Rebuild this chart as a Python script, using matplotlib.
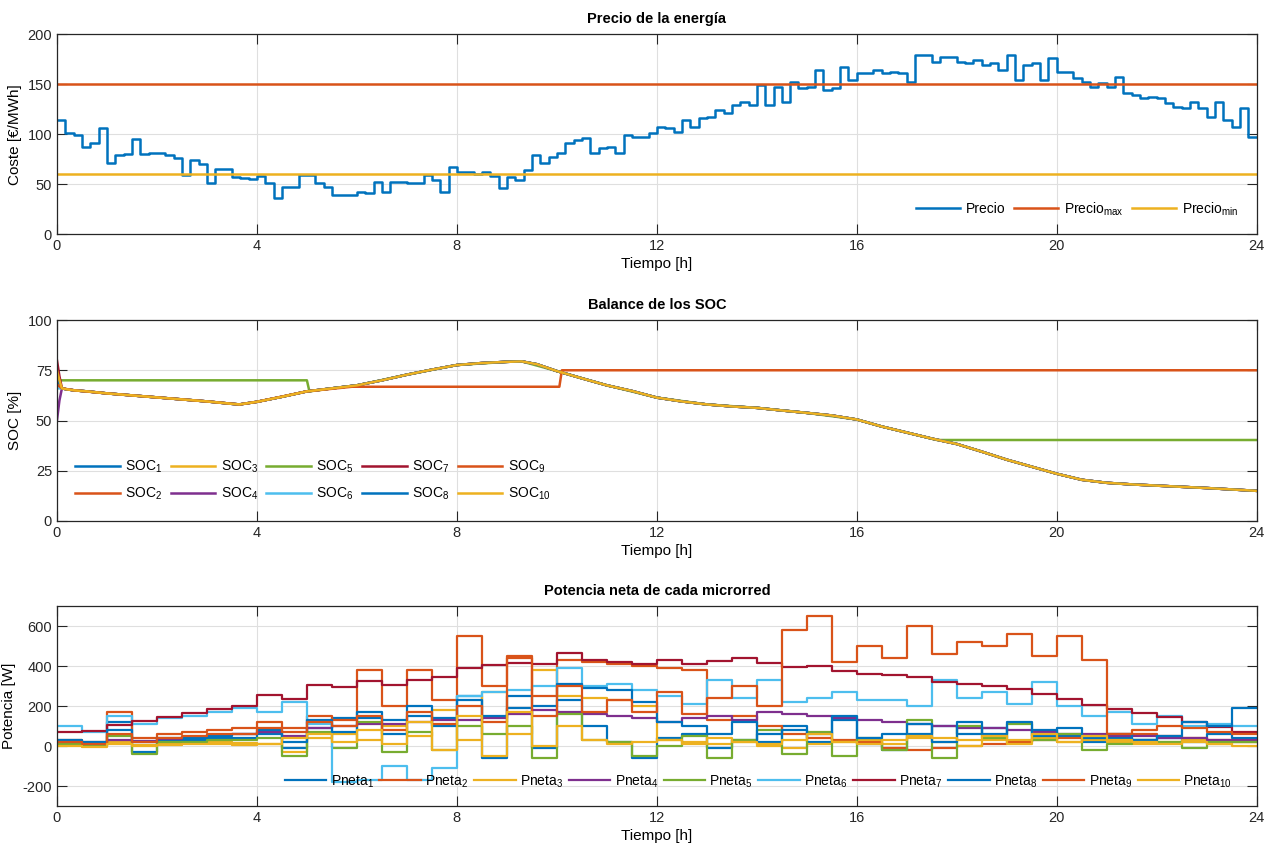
import numpy as np
import matplotlib
matplotlib.use("Agg")
import matplotlib.pyplot as plt

plt.rcParams['font.family'] = ['Liberation Sans Narrow', 'Liberation Sans', 'DejaVu Sans']
plt.rcParams['mathtext.default'] = 'regular'
plt.rcParams['axes.unicode_minus'] = False
plt.rcParams['font.size'] = 10

# MATLAB default colour order
mcol = ['#0072BD', '#D95319', '#EDB120', '#7E2F8E', '#77AC30', '#4DBEEE', '#A2142F']

# ---------------- price (10 min steps) ----------------
precio = [114, 101, 99, 87, 91, 106, 71, 79, 80, 95, 80, 81,
          81, 79, 76, 59, 74, 70, 51, 65, 65, 57, 56, 55,
          58, 51, 36, 47, 47, 59, 59, 51, 47, 39, 39, 39,
          42, 41, 52, 42, 52, 52, 51, 51, 59, 54, 42, 67,
          62, 62, 60, 62, 58, 46, 57, 54, 64, 79, 71, 77,
          81, 91, 94, 96, 81, 86, 87, 81, 99, 97, 97, 101,
          107, 106, 102, 114, 107, 116, 117, 124, 121, 129, 132, 129,
          149, 129, 147, 132, 152, 146, 147, 164, 144, 146, 167, 154,
          161, 161, 164, 161, 162, 161, 152, 179, 179, 172, 177, 177,
          172, 171, 174, 169, 171, 164, 179, 154, 169, 171, 154, 176,
          162, 162, 156, 152, 147, 151, 147, 157, 141, 139, 136, 137,
          136, 131, 127, 126, 132, 126, 117, 132, 114, 107, 126, 97]
precio_max = 150
precio_min = 60

# ---------------- SOC ----------------
soc_t = [0, 0.05, 0.1, 0.2, 0.35, 0.6, 1.0, 1.5, 2.0, 2.5, 3.0, 3.5, 3.65, 4.0,
         4.5, 5.0, 5.5, 6.0, 6.5, 7.0, 7.5, 8.0, 8.5, 9.0, 9.3, 9.6, 10.0,
         10.5, 11.0, 11.5, 12.0, 12.5, 13.0, 13.5, 14.0, 14.5, 15.0, 15.5,
         16.0, 16.5, 17.0, 17.5, 18.0, 18.5, 19.0, 19.5, 20.0, 20.5, 21.0,
         21.5, 22.0, 22.5, 23.0, 23.5, 24.0]
soc_comun = [68, 67, 66, 65.5, 65, 64.5, 63.5, 62.5, 61.5, 60.5, 59.5, 58.3, 58, 59.3,
             61.8, 64.5, 66, 67.5, 70, 72.8, 75.3, 77.6, 78.6, 79.2, 79.4, 78, 74.6,
             71, 67.5, 64.7, 61.4, 59.5, 58, 57, 56.3, 55, 53.8, 52.5,
             50.5, 47, 44, 41, 38.3, 34.5, 30.5, 27, 23.5, 20.5, 19,
             18.2, 17.6, 17, 16.4, 15.7, 15]
soc_ini = [72, 68, 74, 50, 70, 66, 80, 71, 68, 75]   # value at t = 0
soc_ini2 = [69, 67, 70, 60, 70, 66, 72, 68, 67, 70]  # value at t = 0.05

soc5_t = [0, 5.0, 5.05, 5.5, 6.0, 7.0, 8.0, 9.0, 9.3, 10.0, 11.0, 12.0, 13.0, 14.0,
          15.0, 16.0, 16.5, 17.0, 17.6, 24.0]
soc5 = [70, 70, 64.5, 66, 67.5, 72.8, 77.6, 79.2, 79.4, 74.6, 67.5, 61.4, 58, 56.3,
        53.8, 50.5, 47, 44, 40.3, 40.3]
soc9_t = [0, 0.1, 0.35, 1.0, 2.0, 3.0, 3.65, 4.0, 5.0, 5.9, 10.05, 10.1, 24.0]
soc9 = [68, 66, 65, 63.5, 61.5, 59.5, 58, 59.3, 64.5, 66.8, 66.8, 75, 75]

# ---------------- net power (30 min steps) ----------------
pneta1 = [20, 10, 120, -30, 30, 30, 40, 40, 60, -10, 90, 140, 140, 130, 150, 140,
          250, -60, 190, -10, 230, 100, 20, -60, 40, 60, -10, 30, 60, 100, 20, 130,
          10, -20, 60, 100, 60, 90, 20, 80, 50, 20, 40, 30, 40, 20, 60, 40]
pneta2 = [30, 20, 170, 40, 60, 70, 80, 90, 120, 90, 150, 130, 380, 200, 380, 230,
          550, 300, 450, 250, 430, 420, 410, 400, 390, 380, 130, 150, 100, 60, 40, 30,
          20, -10, -20, -10, 0, 10, 20, 30, 40, 50, 60, 60, 50, 40, 30, 20]
pneta3 = [10, 0, 20, 5, 10, 15, 20, 15, 10, -30, 40, 60, 30, 100, 50, 180,
          30, 270, 60, 380, 250, 240, 230, 200, 30, 20, 10, 20, 0, -10, 10, 20,
          30, 10, 40, 20, 0, 30, 10, 40, 20, 30, 20, 10, 20, 30, 10, 20]
pneta4 = [15, 10, 30, 25, 35, 45, 55, 60, 70, 50, 90, 100, 110, 110, 120, 130,
          130, 140, 160, 180, 170, 160, 150, 140, 120, 140, 150, 130, 170, 160, 150, 140,
          130, 120, 110, 100, 90, 90, 80, 70, 60, 60, 50, 50, 40, 40, 30, 30]
pneta5 = [10, 0, 50, -40, 20, 20, 30, 30, 40, -50, 70, -10, 120, -30, 70, -20,
          100, 60, 100, -60, 160, 30, 20, -50, 0, 50, -60, 30, 80, -40, 70, -50,
          40, -20, 130, -60, 100, 40, 110, 30, 60, -20, 10, 30, 20, -10, 20, 20]
pneta6 = [100, 70, 150, 110, 140, 150, 170, 190, 170, 220, 110, -180, -170, -100, -170, -110,
          250, 270, 280, 300, 390, 300, 310, 280, 250, 210, 330, 240, 330, 220, 240, 270,
          230, 230, 200, 330, 240, 270, 210, 320, 200, 150, 170, 110, 150, 100, 110, 100]
pneta7 = [68, 75, 105, 125, 145, 165, 185, 200, 255, 235, 305, 295, 325, 305, 330, 345,
          390, 405, 415, 410, 465, 430, 420, 410, 430, 410, 425, 440, 415, 395, 400, 375,
          360, 355, 345, 320, 310, 300, 285, 260, 235, 205, 185, 165, 145, 120, 95, 70]
pneta8 = [30, 20, 80, 20, 40, 40, 50, 60, 80, 20, 130, 70, 170, 60, 200, 100,
          230, 150, 250, 200, 310, 290, 280, 220, 120, 100, 60, 120, 20, 80, 60, 150,
          40, 60, 110, 20, 120, 60, 120, 50, 90, 40, 60, 30, 50, 120, 100, 190]
pneta9 = [20, 10, 60, 20, 40, 50, 60, 60, 90, 70, 120, 100, 150, 80, 170, 110,
          200, 120, 440, 150, 300, 170, 230, 170, 270, 160, 240, 300, 200, 580, 650, 420,
          500, 440, 600, 460, 520, 500, 560, 450, 550, 430, 60, 80, 100, 90, 70, 60]
pneta10 = [0, -5, 10, 0, 5, 10, 10, 5, 10, 40, 60, 20, 80, 10, 120, -20,
           150, -50, 170, 0, 100, 30, 10, 20, 30, 10, 40, 20, 10, 30, 60, 20,
           10, 30, 50, 40, 30, 50, 30, 60, 20, 50, 30, 20, 10, 20, 10, 0]

ticks_h = [0, 4, 8, 12, 16, 20, 24]


def estilo(ax, ylim, yticks, ylabel, xlab):
    ax.set_xlim(0, 24)
    ax.set_ylim(*ylim)
    ax.set_xticks(ticks_h)
    ax.set_yticks(yticks)
    ax.grid(True, color='#dfdfdf', linewidth=0.8)
    ax.set_axisbelow(True)
    ax.tick_params(direction='in', length=7, width=0.8, top=True, right=True,
                   labelsize=10.5, colors='#262626')
    for s in ax.spines.values():
        s.set_color('#262626')
        s.set_linewidth(0.9)
    ax.set_xlabel('Tiempo [h]', fontsize=11, labelpad=3)
    ax.set_ylabel(ylabel, fontsize=11, family=['Liberation Sans', 'DejaVu Sans'])
    ax.yaxis.set_label_coords(xlab, 0.5)


fig = plt.figure(figsize=(12.71, 8.64), dpi=100)

# ---- top: price
ax1 = fig.add_axes([0.0448, 0.729, 0.944, 0.2315])
t_p = np.arange(len(precio) + 1) / 6.0
ax1.plot(t_p, precio + [precio[-1]], drawstyle='steps-post', color=mcol[0], lw=1.8, label='Precio')
ax1.axhline(precio_max, color=mcol[1], lw=1.8, label='Precio$_{max}$')
ax1.axhline(precio_min, color=mcol[2], lw=1.8, label='Precio$_{min}$')
estilo(ax1, (0, 200), [0, 50, 100, 150, 200], 'Coste [€/MWh]', -0.029)
ax1.set_title('Precio de la energía', fontweight='bold', fontsize=10.5, pad=8)
ax1.legend(loc='lower right', ncol=3, frameon=False, fontsize=10, handlelength=3.2,
           columnspacing=0.6, handletextpad=0.4, bbox_to_anchor=(0.995, 0.02))

# ---- middle: SOC
ax2 = fig.add_axes([0.0448, 0.397, 0.944, 0.2326])
for i in range(10):
    c = mcol[i % 7]
    if i == 4:
        ax2.plot(soc5_t, soc5, color=c, lw=1.8, label='SOC$_{%d}$' % (i + 1))
    elif i == 8:
        ax2.plot(soc9_t, soc9, color=c, lw=1.8, label='SOC$_{%d}$' % (i + 1))
    else:
        vals = [soc_ini[i], soc_ini2[i]] + soc_comun[2:]
        ax2.plot(soc_t, vals, color=c, lw=1.8, label='SOC$_{%d}$' % (i + 1))
estilo(ax2, (0, 100), [0, 25, 50, 75, 100], 'SOC [%]', -0.029)
ax2.set_title('Balance de los SOC', fontweight='bold', fontsize=10.5, pad=8)
ax2.legend(loc='lower left', ncol=5, frameon=False, fontsize=10, handlelength=3.2,
           columnspacing=0.6, handletextpad=0.4, labelspacing=0.8,
           bbox_to_anchor=(0.005, 0.03))

# ---- bottom: net power
ax3 = fig.add_axes([0.0448, 0.0671, 0.944, 0.2315])
pnetas = [pneta1, pneta2, pneta3, pneta4, pneta5, pneta6, pneta7, pneta8, pneta9, pneta10]
t_n = np.arange(len(pneta1) + 1) * 0.5
for i, p in enumerate(pnetas):
    ax3.plot(t_n, p + [p[-1]], drawstyle='steps-post', color=mcol[i % 7], lw=1.6,
             label='Pneta$_{%d}$' % (i + 1))
estilo(ax3, (-300, 700), [-200, 0, 200, 400, 600], 'Potencia [W]', -0.034)
ax3.set_title('Potencia neta de cada microrred', fontweight='bold', fontsize=10.5, pad=8)
ax3.legend(loc='lower right', ncol=10, frameon=False, fontsize=10, handlelength=3.0,
           columnspacing=0.4, handletextpad=0.3, bbox_to_anchor=(0.99, 0.02))

fig.savefig('out.png', dpi=100)
